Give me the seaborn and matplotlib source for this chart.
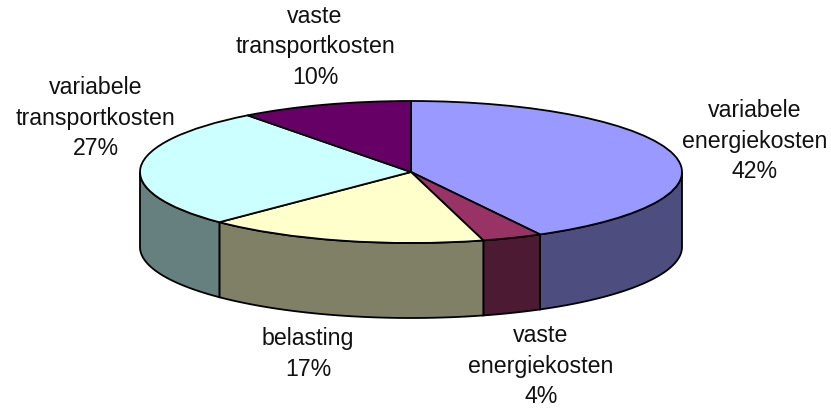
import numpy as np
import matplotlib
matplotlib.use("Agg")
import matplotlib.pyplot as plt
import seaborn as sns

sns.set_style("white")
plt.rcParams['font.family'] = ['Liberation Sans', 'DejaVu Sans']

labels = ["variabele\nenergiekosten\n42%", "vaste\nenergiekosten\n4%", "belasting\n17%",
          "variabele\ntransportkosten\n27%", "vaste\ntransportkosten\n10%"]
values = [42.1, 3.6, 16.8, 27.2, 10.3]
top_colors = ["#9999FF", "#993366", "#FFFFCC", "#CCFFFF", "#660066"]
side_colors = ["#4D4D80", "#4D1A33", "#808066", "#668080", "#330033"]

W, H = 831, 409
cx, cy, rx, ry, depth = 411, 172, 271, 71, 75
label_px = [(755, 141), (541, 366), (308, 354), (96, 118), (315, 47)]

fig = plt.figure(figsize=(W / 100, H / 100), dpi=100)
ax = fig.add_axes([0, 0, 1, 1])
ax.pie(values, colors=top_colors, startangle=90, counterclock=False, radius=1,
       wedgeprops=dict(edgecolor="black", linewidth=1.3, zorder=3))
ax.set_aspect("auto")
ax.set_xlim(-cx / rx, (W - cx) / rx)
ax.set_ylim((cy - H) / ry, cy / ry)
ax.axis("off")

d = depth / ry
edges = np.cumsum([0] + values) / sum(values) * 2 * np.pi
for a0, a1, c in zip(edges[:-1], edges[1:], side_colors):
    lo, hi = max(a0, np.pi / 2), min(a1, 3 * np.pi / 2)
    if hi <= lo:
        continue
    t = np.linspace(lo, hi, 80)
    x, y = np.sin(t), np.cos(t)
    ax.fill(np.r_[x, x[::-1]], np.r_[y, y[::-1] - d], facecolor=c, edgecolor="black",
            linewidth=1.3, zorder=2)

for (px, py), s in zip(label_px, labels):
    ax.text((px - cx) / rx, (cy - py) / ry, s, ha="center", va="center",
            fontsize=16.7, linespacing=1.42, color="#111111", zorder=5, clip_on=False)

fig.savefig("out.png", dpi=100, facecolor="white")
